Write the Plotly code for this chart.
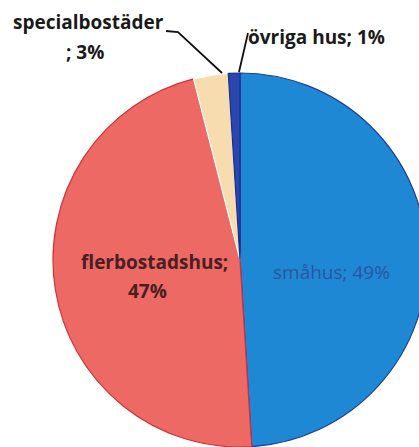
import plotly.graph_objects as go

labels = ["småhus", "flerbostadshus", "specialbostäder", "övriga hus"]
values = [49, 47, 3, 1]
colors = ["#1f88d4", "#ec6964", "#f6dcae", "#2b47ad"]
edge_colors = ["#1a3f9c", "#d0303a", "#ffffff", "#1a2f8a"]

W, H = 432, 447

fig = go.Figure(go.Pie(
    labels=labels, values=values, sort=False, direction="clockwise", rotation=0,
    marker=dict(colors=colors, line=dict(color=edge_colors, width=1.2)),
    textinfo="none", hoverinfo="label+percent", showlegend=False,
    domain=dict(x=[53 / W, 427 / W], y=[0, 374 / H]),
))

def pct(i):
    return f"{values[i]}%"

FONT = "Open Sans"

fig.update_layout(
    width=W, height=H, margin=dict(l=0, r=0, t=0, b=0),
    paper_bgcolor="white", plot_bgcolor="white",
    font=dict(family=FONT),
    xaxis=dict(visible=False, range=[0, W], fixedrange=True),
    yaxis=dict(visible=False, range=[H, 0], fixedrange=True),
    annotations=[
        dict(x=154, y=262, xref="x", yref="y", showarrow=False,
             text=f"<b>{labels[1]};</b>",
             font=dict(size=19, color="#4a1e22", family=FONT)),
        dict(x=147, y=291, xref="x", yref="y", showarrow=False,
             text=f"<b>{pct(1)}</b>",
             font=dict(size=19, color="#4a1e22", family=FONT)),
        dict(x=331, y=272, xref="x", yref="y", showarrow=False,
             text=f"{labels[0]}; {pct(0)}",
             font=dict(size=19, color="#2c55a0", family=FONT)),
        dict(x=88, y=22, xref="x", yref="y", showarrow=False,
             text=f"<b>{labels[2]}</b>",
             font=dict(size=19, color="#1a1a1a", family=FONT)),
        dict(x=85, y=52, xref="x", yref="y", showarrow=False,
             text=f"<b>; {pct(2)}</b>",
             font=dict(size=19, color="#1a1a1a", family=FONT)),
        dict(x=246, y=37, xref="x", yref="y", showarrow=False, xanchor="left",
             text=f"<b>{labels[3]}; {pct(3)}</b>",
             font=dict(size=19, color="#1a1a1a", family=FONT)),
    ],
    shapes=[
        dict(type="path", xref="x", yref="y", path="M 166 31 L 178 32 L 222 73",
             line=dict(color="#111", width=1.8)),
        dict(type="line", xref="x", yref="y", x0=248, y0=33, x1=239, y1=72,
             line=dict(color="#111", width=1.8)),
    ],
)

fig.write_html("out.html", config={"displayModeBar": False},
               post_script="document.body.style.margin='0';document.body.style.overflow='hidden';")
